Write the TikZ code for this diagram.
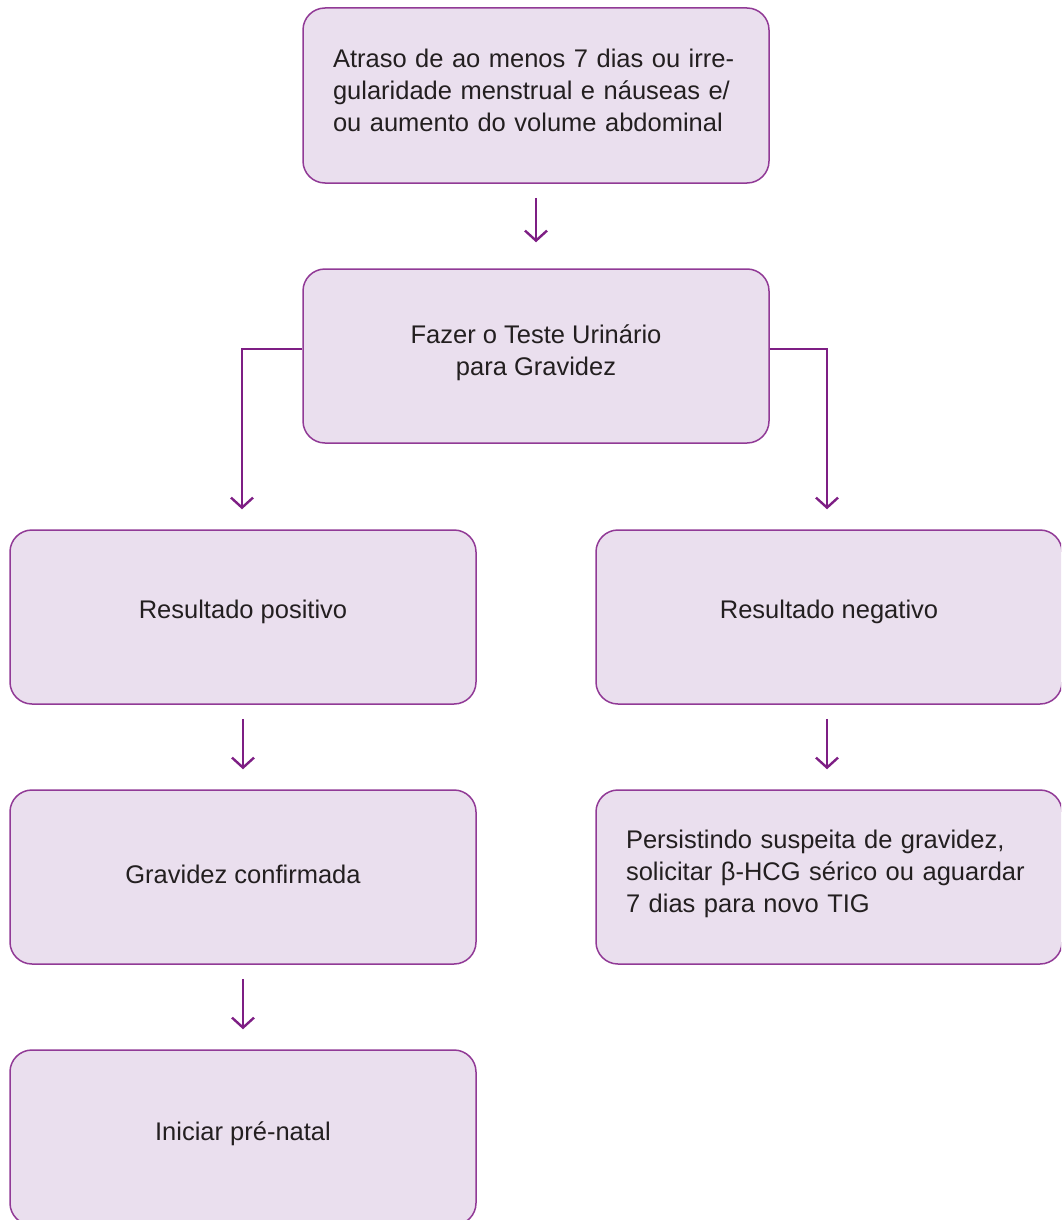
\documentclass[tikz,border=0pt]{standalone}
\usepackage{fontspec}
\setmainfont{Liberation Sans}
\usetikzlibrary{arrows.meta}

\definecolor{boxfill}{RGB}{234,223,238}
\definecolor{boxline}{RGB}{145,58,150}
\definecolor{arrowcol}{RGB}{126,30,132}
\definecolor{txt}{RGB}{35,31,32}

\tikzset{
  flowbox/.style={draw=boxline, fill=boxfill, line width=1.5pt,
    rounded corners=22pt, minimum width=466pt, minimum height=174pt,
    inner sep=0pt},
  flowtext/.style={inner sep=0pt, text=txt, align=center,
    font=\fontsize{25.5pt}{32pt}\selectfont},
  lefttext/.style={flowtext, align=left, text width=406pt},
  flowarrow/.style={draw=arrowcol, line width=2.4pt,
    -{Straight Barb[length=10pt,width=22pt,line width=2.4pt]}},
}

\begin{document}
\begin{tikzpicture}[x=1pt,y=-1pt]
  \useasboundingbox (0,0) rectangle (1061,1220);
  \clip (0,0) rectangle (1061,1220);

  % boxes
  \node[flowbox, minimum height=175pt] (start) at (536,95.5) {};
  \node[flowbox] (teste) at (536,356) {};
  \node[flowbox] (pos) at (243,617) {};
  \node[flowbox] (neg) at (829,617) {};
  \node[flowbox] (conf) at (243,877) {};
  \node[flowbox] (persist) at (829,877) {};
  \node[flowbox, minimum height=175pt] (pre) at (243,1137.5) {};

  % box texts
  \node[lefttext] (start-t) at ([yshift=5pt]start.center)
    {Atraso de ao menos 7 dias ou irre-\\gularidade menstrual e náuseas e/\\ou aumento do volume abdominal};
  \node[flowtext] (teste-t) at ([yshift=3pt]teste.center) {Fazer o Teste Urinário\\para Gravidez};
  \node[flowtext] (pos-t) at ([yshift=5pt]pos.center) {Resultado positivo};
  \node[flowtext] (neg-t) at ([yshift=5pt]neg.center) {Resultado negativo};
  \node[flowtext] (conf-t) at ([yshift=3pt]conf.center) {Gravidez confirmada};
  \node[lefttext] (persist-t) at ([yshift=3pt]persist.center)
    {Persistindo suspeita de gravidez,\\solicitar β-HCG sérico ou aguardar\\7 dias para novo TIG};
  \node[flowtext] (pre-t) at ([yshift=4pt]pre.center) {Iniciar pré-natal};

  % connectors
  \draw[flowarrow] ([yshift=-14pt]start.south) -- ([yshift=26pt]teste.north);
  \draw[flowarrow] ([yshift=7pt]teste.west) -| ([xshift=-1pt,yshift=20pt]pos.north);
  \draw[flowarrow] ([yshift=7pt]teste.east) -| ([xshift=-2pt,yshift=20pt]neg.north);
  \draw[flowarrow] ([yshift=-14pt]pos.south) -- ([yshift=20pt]conf.north);
  \draw[flowarrow] ([xshift=-2pt,yshift=-14pt]neg.south) -- ([xshift=-2pt,yshift=20pt]persist.north);
  \draw[flowarrow] ([yshift=-14pt]conf.south) -- ([yshift=20pt]pre.north);
\end{tikzpicture}
\end{document}
